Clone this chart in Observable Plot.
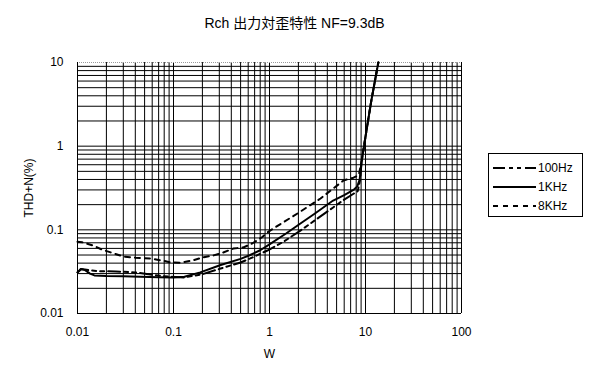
<!DOCTYPE html>
<html>
<head>
<meta charset="utf-8">
<script src="https://cdn.jsdelivr.net/npm/d3@7"></script>
<script src="https://cdn.jsdelivr.net/npm/@observablehq/plot@0.6"></script>
<style>
  body { margin: 0; background: #fff; }
  #wrap { position: relative; width: 589px; height: 380px; font-family: "Liberation Sans", "Noto Sans CJK JP", sans-serif; }
  #title { position: absolute; left: 0; width: 589px; top: 12px; text-align: center; font-size: 14px; color: #000; }
  #legend { position: absolute; left: 488px; top: 153px; width: 95px; height: 64px; border: 1px solid #000; box-sizing: border-box; background: #fff; }
</style>
</head>
<body>
<div id="wrap">
  <div id="title"></div>
  <div id="legend"></div>
</div>
<script>
const titleText = "Rch 出力対歪特性 NF=9.3dB";
const xLabel = "W";
const yLabel = "THD+N(%)";
const xTicks = [0.01, 0.1, 1, 10, 100];
const xTickLabels = ["0.01", "0.1", "1", "10", "100"];
const yTicks = [0.01, 0.1, 1, 10];
const yTickLabels = ["0.01", "0.1", "1", "10"];
const seriesNames = ["100Hz", "1KHz", "8KHz"];

// 100Hz (dashed)
const w100 = [0.0100, 0.0110, 0.0130, 0.017, 0.025, 0.040, 0.060, 0.090, 0.13, 0.20, 0.31, 0.50, 0.63, 0.95, 1.4, 2.1, 3.2, 4.6, 6.0, 7.5, 8.3, 8.8, 9.1, 10.2, 11.5, 13.6];
const t100 = [0.031, 0.034, 0.033, 0.032, 0.0318, 0.031, 0.029, 0.0275, 0.0270, 0.0295, 0.0345, 0.0407, 0.0455, 0.0566, 0.072, 0.098, 0.138, 0.185, 0.23, 0.27, 0.29, 0.40, 0.65, 1.5, 3.5, 10];
// 1KHz (solid)
const w1k = [0.0100, 0.0108, 0.0120, 0.0135, 0.0150, 0.020, 0.030, 0.045, 0.070, 0.100, 0.130, 0.190, 0.31, 0.50, 0.63, 0.80, 1.0, 1.5, 2.1, 3.0, 4.6, 6.0, 7.5, 8.2, 8.7, 9.1, 10.2, 11.5, 13.6];
const t1k = [0.031, 0.034, 0.033, 0.030, 0.0285, 0.0280, 0.0278, 0.0275, 0.0272, 0.0270, 0.0275, 0.031, 0.038, 0.045, 0.050, 0.057, 0.067, 0.091, 0.119, 0.158, 0.224, 0.26, 0.30, 0.33, 0.40, 0.65, 1.5, 3.5, 10];
// 8KHz (dotted)
const w8k = [0.0100, 0.0112, 0.0145, 0.0180, 0.023, 0.030, 0.040, 0.0575, 0.080, 0.093, 0.118, 0.158, 0.20, 0.26, 0.33, 0.42, 0.534, 0.66, 0.83, 0.95, 1.10, 1.96, 3.40, 5.9, 7.5, 8.5, 9.1, 10.2, 11.5, 13.6];
const t8k = [0.072, 0.071, 0.065, 0.058, 0.053, 0.048, 0.0465, 0.0454, 0.0425, 0.0407, 0.0405, 0.043, 0.0467, 0.0494, 0.0536, 0.0597, 0.0615, 0.0687, 0.081, 0.093, 0.104, 0.157, 0.237, 0.389, 0.42, 0.45, 0.65, 1.5, 3.5, 10];

const dashes = {"100Hz": "12,4,4,4,4,4", "1KHz": null, "8KHz": "5,5"};

const rows = [];
[[w100, t100, "100Hz"], [w1k, t1k, "1KHz"], [w8k, t8k, "8KHz"]].forEach(([ws, ts, name]) => {
  ws.forEach((w, i) => rows.push({w, t: ts[i], series: name}));
});

// gridline positions (1..9 in each decade)
const gridXVals = [];
[0.01, 0.1, 1, 10].forEach(d => { for (let k = 1; k <= 9; k++) gridXVals.push(k * d); });
gridXVals.shift(); // 0.01 is the frame
const gridYVals = [];
[0.01, 0.1, 1].forEach(d => { for (let k = 1; k <= 9; k++) gridYVals.push(k * d); });
gridYVals.shift();

const fmtX = d => xTickLabels[xTicks.indexOf(d)];
const fmtY = d => yTickLabels[yTicks.indexOf(d)];

const chart = Plot.plot({
  width: 589,
  height: 380,
  marginLeft: 77,
  marginRight: 128,
  marginTop: 62,
  marginBottom: 67,
  style: {fontFamily: "'Liberation Sans', sans-serif", fontSize: "12px", color: "#000", background: "#fff"},
  x: {type: "log", domain: [0.01, 100]},
  y: {type: "log", domain: [0.01, 10]},
  marks: [
    Plot.gridX(gridXVals, {stroke: "#000", strokeOpacity: 1}),
    Plot.gridY(gridYVals, {stroke: "#000", strokeOpacity: 1}),
    Plot.ruleY([10], {stroke: "#999", strokeDasharray: "1,1"}),
    Plot.ruleX([0.01, 100], {stroke: "#000"}),
    Plot.ruleY([0.01], {stroke: "#000"}),
    ...seriesNames.map(name => Plot.line(rows.filter(r => r.series === name), {
      x: "w", y: "t", stroke: "#000", strokeWidth: 2, strokeDasharray: dashes[name]
    })),
    Plot.axisX(xTicks, {tickSize: 0, tickPadding: 14, tickFormat: fmtX, fontSize: 12, label: xLabel, labelAnchor: "center", labelArrow: "none", labelOffset: 44}),
    Plot.axisY(yTicks, {tickSize: 0, tickPadding: 14, tickFormat: fmtY, fontSize: 12, label: yLabel, labelAnchor: "center", labelArrow: "none", labelOffset: 53})
  ]
});
document.getElementById("wrap").appendChild(chart);
document.getElementById("title").textContent = titleText;

// legend
const leg = d3.select("#legend").append("svg").attr("width", 93).attr("height", 62)
  .style("font-family", "'Liberation Sans', sans-serif").style("font-size", "12px");
seriesNames.forEach((name, i) => {
  const y = [14, 33, 52][i];
  leg.append("line").attr("x1", 4).attr("x2", 47).attr("y1", y).attr("y2", y)
    .attr("stroke", "#000").attr("stroke-width", 2)
    .attr("stroke-dasharray", dashes[name]);
  leg.append("text").attr("x", 49).attr("y", y).attr("dy", "0.35em").text(name);
});
</script>
</body>
</html>
